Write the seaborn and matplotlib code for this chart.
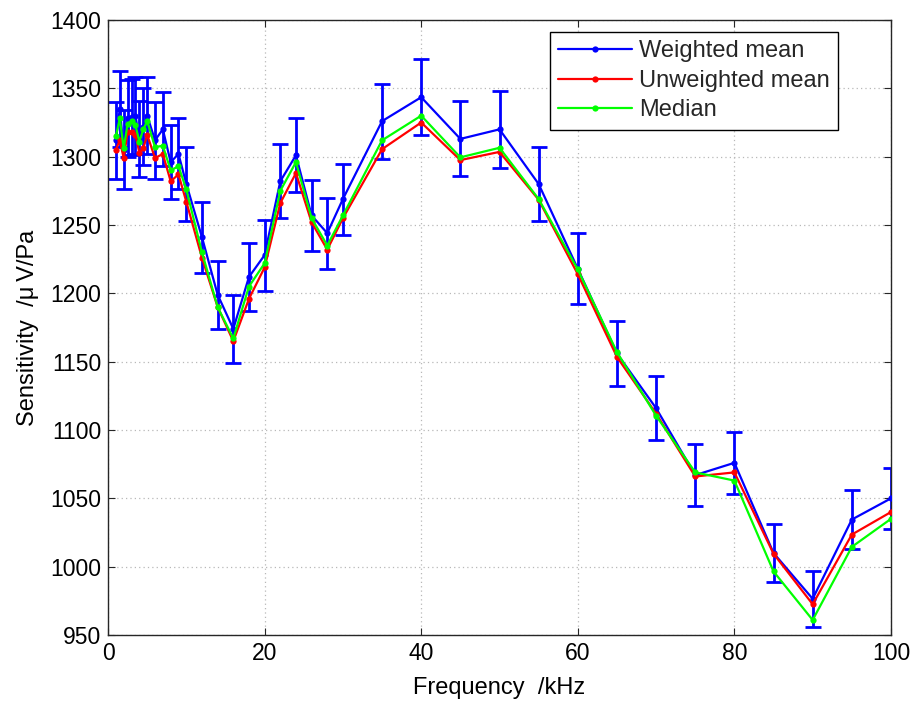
import numpy as np
import pandas as pd
import matplotlib
matplotlib.use("Agg")
import matplotlib.pyplot as plt
import seaborn as sns

# Measurement frequencies (kHz)
freq = [1, 1.5, 2, 2.5, 3, 3.5, 4, 4.5, 5, 6, 7, 8, 9, 10,
        12, 14, 16, 18, 20, 22, 24, 26, 28, 30,
        35, 40, 45, 50, 55, 60, 65, 70, 75, 80, 85, 90, 95, 100]

# Sensitivity estimates (uV/Pa)
weighted_mean = [1312, 1335, 1305, 1328, 1329, 1330, 1313, 1322, 1330, 1312, 1320, 1296, 1302, 1280,
                 1241, 1199, 1174, 1212, 1228, 1282, 1301, 1257, 1244, 1269,
                 1326, 1343.5, 1313, 1320, 1280, 1218, 1156, 1116, 1067, 1076, 1010, 976.5, 1034.5, 1050]
unweighted_mean = [1305, 1312, 1299, 1318, 1318, 1316, 1303, 1306, 1316, 1299, 1302, 1282, 1287, 1267,
                   1226, 1190, 1165, 1196, 1219, 1266, 1288, 1252, 1232, 1255,
                   1305.5, 1325, 1297.5, 1303.5, 1268.5, 1214, 1153.5, 1112, 1066, 1069, 1009.5, 972.5, 1023.5, 1040]
median = [1315, 1328, 1306, 1324, 1326, 1323, 1311, 1320, 1326, 1307, 1308, 1290, 1293, 1276,
          1230, 1190, 1167, 1205, 1222, 1275, 1296, 1255, 1235, 1257,
          1312, 1330, 1299.5, 1306.5, 1269, 1217.5, 1157, 1110.5, 1069, 1063, 996.5, 961, 1014.5, 1035]

# Uncertainty of the weighted mean (uV/Pa)
weighted_err = [28, 28, 29, 28, 28, 28, 28, 28, 28, 28, 27, 27, 26, 27,
                26, 25, 25, 25, 26, 27, 27, 26, 26, 26,
                27.5, 28, 27.5, 28, 27, 26, 24, 23.5, 22.5, 22.5, 21.5, 20.5, 21.5, 22.5]

series_names = ["Weighted mean", "Unweighted mean", "Median"]
series_colors = ["#0000ff", "#ff0000", "#00ff00"]

df = pd.DataFrame({
    "freq": freq * 3,
    "value": weighted_mean + unweighted_mean + median,
    "series": sum([[n] * len(freq) for n in series_names], []),
})

sns.set_theme(style="white")
plt.rcParams["font.family"] = ["Liberation Sans", "DejaVu Sans"]

fig = plt.figure(figsize=(9.14, 7.02), dpi=100)
ax = fig.add_axes([0.1182, 0.0954, 0.8566, 0.8761])

# Error bars for the weighted mean
ax.errorbar(freq, weighted_mean, yerr=weighted_err, fmt="none",
            ecolor="#0000ff", elinewidth=2.0, capsize=5.5, capthick=2.0, zorder=2)

sns.lineplot(data=df, x="freq", y="value", hue="series", hue_order=series_names,
             palette=dict(zip(series_names, series_colors)), marker="o",
             markersize=4.5, markeredgewidth=0, linewidth=1.6, sort=False,
             estimator=None, ax=ax, zorder=3)

ax.set_xlim(0, 100)
ax.set_ylim(950, 1400)
ax.set_xticks(np.arange(0, 101, 20))
ax.set_yticks(np.arange(950, 1401, 50))

ax.grid(True, color="#b8b8b8", linestyle=(0, (1, 2.5)), linewidth=0.9)
for side in ["left", "right", "top", "bottom"]:
    ax.spines[side].set_visible(True)
    ax.spines[side].set_color("#262626")
    ax.spines[side].set_linewidth(1.0)

ax.tick_params(axis="both", which="major", direction="in", length=5, width=0.8,
               color="#262626", labelsize=16.5, labelcolor="black",
               top=True, right=True, bottom=True, left=True, pad=5)

ax.set_xlabel("Frequency  /kHz", fontsize=17, color="black", labelpad=9)
ax.set_ylabel("Sensitivity  /\u03bc\u2009V/Pa", fontsize=17, color="black", labelpad=8)

leg = ax.legend(loc="upper right", fontsize=17, frameon=True, fancybox=False,
                edgecolor="black", framealpha=1, borderpad=0.35, handlelength=3.1,
                handletextpad=0.3, labelspacing=0.32, borderaxespad=0,
                bbox_to_anchor=(0.932, 0.9805))
leg.get_frame().set_linewidth(1.0)
leg.set_title(None)

fig.savefig("out.png", dpi=100)
